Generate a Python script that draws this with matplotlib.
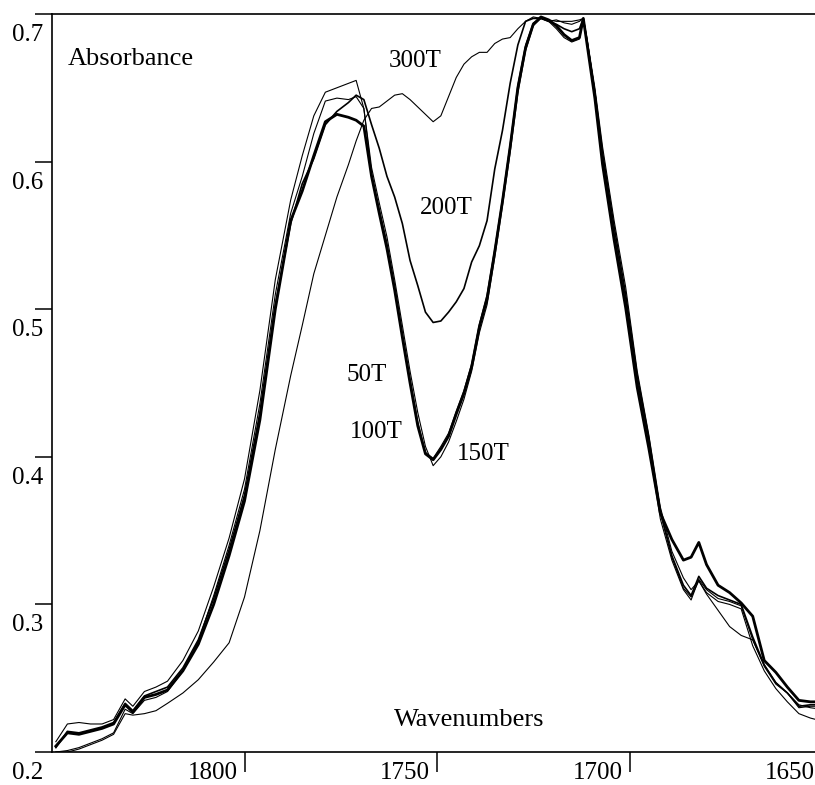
import matplotlib
matplotlib.use("Agg")
import matplotlib.pyplot as plt
import matplotlib.transforms as mtransforms

plt.rcParams['font.family'] = ['Liberation Serif', 'DejaVu Serif']

# wavenumber grid (cm-1), shared by all spectra
wavenumbers = [1849, 1846, 1843, 1840, 1837, 1834, 1831, 1829, 1826, 1823,
               1820, 1816, 1812, 1808, 1804, 1800, 1796, 1792, 1788, 1785,
               1782, 1779, 1776, 1773, 1771, 1769, 1767, 1765, 1763, 1761,
               1759, 1757, 1755, 1753, 1751, 1749, 1747, 1745, 1743, 1741,
               1739, 1737, 1735, 1733, 1731, 1729, 1727, 1725, 1723, 1721,
               1719, 1717, 1715, 1713, 1712, 1711, 1709, 1707, 1704, 1701,
               1698, 1695, 1692, 1689, 1686, 1684, 1682, 1680, 1677, 1674,
               1671, 1668, 1665, 1662, 1659, 1656, 1653, 1650]

abs_50T = [0.204, 0.213, 0.212, 0.214, 0.216, 0.219, 0.232, 0.227, 0.237, 0.239,
           0.242, 0.255, 0.273, 0.300, 0.333, 0.370, 0.425, 0.500, 0.560, 0.580,
           0.604, 0.627, 0.632, 0.630, 0.628, 0.624, 0.590, 0.565, 0.541, 0.513,
           0.481, 0.450, 0.421, 0.402, 0.398, 0.405, 0.414, 0.429, 0.443, 0.461,
           0.488, 0.507, 0.539, 0.573, 0.610, 0.650, 0.677, 0.693, 0.698, 0.696,
           0.692, 0.686, 0.682, 0.684, 0.697, 0.679, 0.643, 0.598, 0.547, 0.501,
           0.447, 0.406, 0.362, 0.344, 0.330, 0.332, 0.342, 0.327, 0.313, 0.308,
           0.301, 0.292, 0.262, 0.254, 0.244, 0.235, 0.234, 0.234]

abs_100T = [0.207, 0.219, 0.220, 0.219, 0.219, 0.222, 0.236, 0.231, 0.241, 0.244,
            0.248, 0.262, 0.282, 0.312, 0.345, 0.385, 0.445, 0.520, 0.574, 0.604,
            0.631, 0.647, 0.650, 0.653, 0.655, 0.636, 0.592, 0.568, 0.545, 0.516,
            0.484, 0.453, 0.424, 0.403, 0.399, 0.407, 0.416, 0.431, 0.445, 0.463,
            0.490, 0.510, 0.541, 0.575, 0.612, 0.652, 0.679, 0.694, 0.697, 0.695,
            0.696, 0.694, 0.693, 0.695, 0.697, 0.680, 0.645, 0.600, 0.548, 0.503,
            0.449, 0.408, 0.358, 0.330, 0.310, 0.303, 0.317, 0.310, 0.304, 0.302,
            0.299, 0.276, 0.258, 0.246, 0.240, 0.230, 0.231, 0.231]

abs_150T = [0.200, 0.201, 0.203, 0.206, 0.209, 0.213, 0.229, 0.226, 0.235, 0.237,
            0.241, 0.255, 0.275, 0.306, 0.340, 0.378, 0.436, 0.510, 0.565, 0.590,
            0.619, 0.641, 0.643, 0.642, 0.644, 0.636, 0.596, 0.572, 0.549, 0.520,
            0.489, 0.458, 0.430, 0.407, 0.394, 0.400, 0.410, 0.424, 0.439, 0.458,
            0.484, 0.503, 0.535, 0.570, 0.606, 0.646, 0.675, 0.692, 0.697, 0.695,
            0.690, 0.684, 0.681, 0.683, 0.697, 0.682, 0.648, 0.604, 0.552, 0.507,
            0.452, 0.412, 0.362, 0.332, 0.311, 0.305, 0.316, 0.308, 0.302, 0.300,
            0.297, 0.272, 0.255, 0.243, 0.234, 0.226, 0.223, 0.221]

abs_200T = [0.203, 0.214, 0.213, 0.215, 0.217, 0.220, 0.233, 0.228, 0.238, 0.241,
            0.244, 0.257, 0.276, 0.304, 0.337, 0.374, 0.430, 0.503, 0.558, 0.585,
            0.602, 0.625, 0.634, 0.640, 0.645, 0.642, 0.625, 0.609, 0.590, 0.576,
            0.558, 0.533, 0.516, 0.498, 0.491, 0.492, 0.498, 0.505, 0.514, 0.532,
            0.543, 0.560, 0.595, 0.621, 0.653, 0.679, 0.695, 0.697, 0.697, 0.695,
            0.693, 0.690, 0.688, 0.690, 0.697, 0.681, 0.647, 0.606, 0.556, 0.510,
            0.455, 0.413, 0.363, 0.333, 0.313, 0.306, 0.319, 0.311, 0.306, 0.303,
            0.300, 0.278, 0.259, 0.247, 0.240, 0.231, 0.232, 0.232]

abs_300T = [0.200, 0.200, 0.202, 0.205, 0.208, 0.212, 0.226, 0.225, 0.226, 0.228,
            0.233, 0.240, 0.249, 0.261, 0.274, 0.305, 0.350, 0.405, 0.455, 0.489,
            0.524, 0.550, 0.576, 0.598, 0.614, 0.628, 0.636, 0.637, 0.641, 0.645,
            0.646, 0.642, 0.637, 0.632, 0.627, 0.631, 0.644, 0.657, 0.666, 0.671,
            0.674, 0.674, 0.680, 0.683, 0.684, 0.690, 0.695, 0.698, 0.697, 0.696,
            0.695, 0.695, 0.695, 0.696, 0.697, 0.683, 0.650, 0.610, 0.560, 0.515,
            0.458, 0.415, 0.366, 0.336, 0.318, 0.310, 0.316, 0.307, 0.296, 0.285,
            0.279, 0.276, 0.259, 0.247, 0.240, 0.232, 0.230, 0.229]

series_names = ['50T', '100T', '150T', '200T', '300T']
x_ticks = [1800, 1750, 1700, 1650]
y_ticks = [0.2, 0.3, 0.4, 0.5, 0.6, 0.7]
y_tick_labels = ['0.2', '0.3', '0.4', '0.5', '0.6', '0.7']

fig = plt.figure(figsize=(8.15, 7.85), dpi=100)
ax = fig.add_axes([0.0638, 0.0420, 0.9448, 0.9402])

spectra = [abs_50T, abs_100T, abs_150T, abs_200T, abs_300T]
widths = [2.0, 0.8, 0.8, 1.2, 0.8]
for name, vals, lw in zip(series_names, spectra, widths):
    ax.plot(wavenumbers, vals, color='black', lw=lw, label=name)

ax.set_xlim(1850, 1650)
ax.set_ylim(0.2, 0.7)

for side in ['left', 'bottom', 'top']:
    ax.spines[side].set_linewidth(1.2)
ax.spines['right'].set_visible(False)

ax.set_xticks(x_ticks)
ax.set_xticklabels([str(t) for t in x_ticks])
ax.set_yticks(y_ticks)
ax.set_yticklabels(y_tick_labels)
ax.tick_params(axis='x', direction='out', length=14.4, width=1.1, pad=-7.2, labelsize=18)
ax.tick_params(axis='y', direction='out', length=12.2, width=1.1, pad=-5.8, labelsize=18)

# labels sit beside the ticks, not centred on them
dx = mtransforms.ScaledTranslation(-0.07, 0, fig.dpi_scale_trans)
for lab in ax.get_xticklabels():
    lab.set_horizontalalignment('right')
    lab.set_transform(lab.get_transform() + dx)
dy = mtransforms.ScaledTranslation(0, -0.10, fig.dpi_scale_trans)
for lab in ax.get_yticklabels():
    lab.set_verticalalignment('top')
    lab.set_transform(lab.get_transform() + dy)

ax.text(0.0208, 0.939, 'Absorbance', transform=ax.transAxes, fontsize=19,
        ha='left', va='center')
ax.text(0.5416, 0.0434, 'Wavenumbers', transform=ax.transAxes, fontsize=19,
        ha='center', va='center')

# curve labels
ax.text(1755.7, 0.668, '300T', fontsize=18, ha='center', va='center')
ax.text(1747.7, 0.5686, '200T', fontsize=18, ha='center', va='center')
ax.text(1768.2, 0.4554, '50T', fontsize=18, ha='center', va='center')
ax.text(1765.8, 0.4168, '100T', fontsize=18, ha='center', va='center')
ax.text(1738.0, 0.4019, '150T', fontsize=18, ha='center', va='center')

fig.savefig('out.png', dpi=100)
